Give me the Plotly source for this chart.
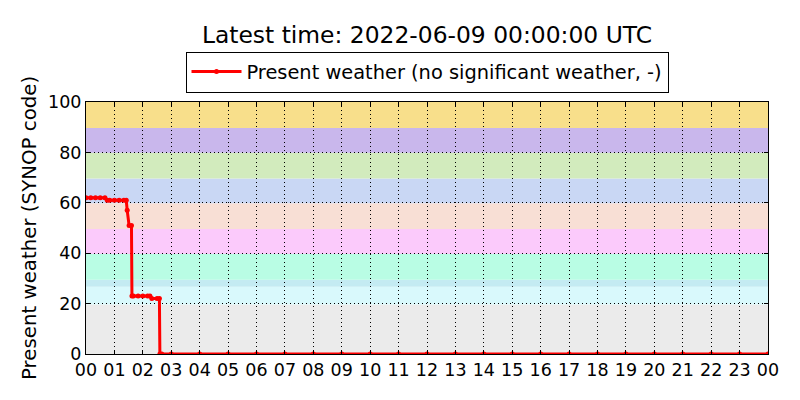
import plotly.graph_objects as go

# ---- data ----
times = ["00:00", "00:10", "00:20", "00:30", "00:40", "00:45", "00:50", "01:00",
         "01:10", "01:20", "01:25", "01:27", "01:31", "01:36", "01:37", "01:40",
         "01:50", "02:00", "02:10", "02:15", "02:19", "02:30", "02:35", "02:36",
         "02:40", "03:00", "04:00", "05:00", "06:00", "07:00", "08:00", "09:00",
         "10:00", "11:00", "12:00", "13:00", "14:00", "15:00", "16:00", "17:00",
         "18:00", "19:00", "20:00", "21:00", "22:00", "23:00", "24:00"]
values = [62, 62, 62, 62, 62, 61, 61, 61,
          61, 61, 61, 57, 51, 51, 23, 23,
          23, 23, 23, 23, 22, 22, 22, 0,
          0, 0, 0, 0, 0, 0, 0, 0,
          0, 0, 0, 0, 0, 0, 0, 0,
          0, 0, 0, 0, 0, 0, 0]

tick_hours = list(range(25))
tick_labels = ["00", "01", "02", "03", "04", "05", "06", "07", "08", "09", "10", "11",
               "12", "13", "14", "15", "16", "17", "18", "19", "20", "21", "22", "23", "00"]
y_ticks = [0, 20, 40, 60, 80, 100]

band_edges = [0, 19.6, 26.7, 29.5, 39.7, 49.6, 59.8, 69.6, 79.9, 89.7, 100]
band_colors = ["#ebebeb", "#d9f9fc", "#c4ebf2", "#b9fde4", "#fbcafb",
               "#f8dfd5", "#c9d7f4", "#d2ebbd", "#c9b7ec", "#f8df8b"]

title_text = "Latest time: 2022-06-09 00:00:00 UTC"
series_name = "Present weather (no significant weather, -)"
y_title = "Present weather (SYNOP code)"


def to_hours(s):
    h, m = s.split(":")
    return int(h) + int(m) / 60.0


x_vals = [to_hours(t) for t in times]

# the page body adds an 8px offset, so the figure is slightly smaller
OFF = 8
W, H = 800 - OFF, 400 - OFF
L, R, T, B = 86 - OFF, 32, 102 - OFF, 46
PW = W - L - R

fig = go.Figure()
fig.add_trace(go.Scatter(
    x=x_vals, y=values, name=series_name, mode="lines+markers",
    line=dict(color="#ff0000", width=3),
    marker=dict(color="#ff0000", size=5),
    showlegend=True,
))

shapes = []
for i, c in enumerate(band_colors):
    shapes.append(dict(type="rect", xref="paper", yref="y", x0=0, x1=1,
                       y0=band_edges[i], y1=band_edges[i + 1],
                       fillcolor=c, line=dict(width=0), layer="below"))

font_family = "DejaVu Sans"
fig.update_layout(
    width=W, height=H,
    margin=dict(l=L, r=R, t=T, b=B, autoexpand=False),
    paper_bgcolor="white", plot_bgcolor="white",
    font=dict(family=font_family, color="black", size=17),
    title=dict(text=title_text, xref="container", x=(427 - OFF) / W, xanchor="center",
               yref="container", y=1 - (35 - OFF) / H, yanchor="middle",
               font=dict(size=23.4, family=font_family, color="black")),
    legend=dict(orientation="h", xref="container", x=(427 - OFF) / W, xanchor="center",
                yref="container", y=1 - (72 - OFF) / H, yanchor="middle", bgcolor="white",
                bordercolor="black", borderwidth=1, itemwidth=50,
                font=dict(size=19.4, family=font_family)),
    shapes=shapes,
    showlegend=True,
    annotations=[dict(text=y_title, xref="paper", yref="paper",
                      x=-(L - (29 - OFF)) / PW, y=0.5, xanchor="center", yanchor="middle",
                      textangle=-90, showarrow=False,
                      font=dict(size=19.8, family=font_family, color="black"))],
)

grid_dash = "1px,3px"
fig.update_xaxes(range=[0, 24], tickvals=tick_hours, ticktext=tick_labels,
                 ticks="inside", ticklen=4, tickcolor="black", mirror="allticks",
                 showline=True, linecolor="black", linewidth=1,
                 showgrid=True, gridcolor="black", griddash=grid_dash, gridwidth=1,
                 zeroline=False, tickfont=dict(size=17.5), tickangle=0, automargin=False)
fig.update_yaxes(range=[0, 100], tickvals=y_ticks,
                 ticks="inside", ticklen=4, tickcolor="black", mirror="allticks",
                 showline=True, linecolor="black", linewidth=1,
                 showgrid=True, gridcolor="black", griddash=grid_dash, gridwidth=1,
                 zeroline=False, tickfont=dict(size=17.5), automargin=False)

fig.write_html("out.html")
